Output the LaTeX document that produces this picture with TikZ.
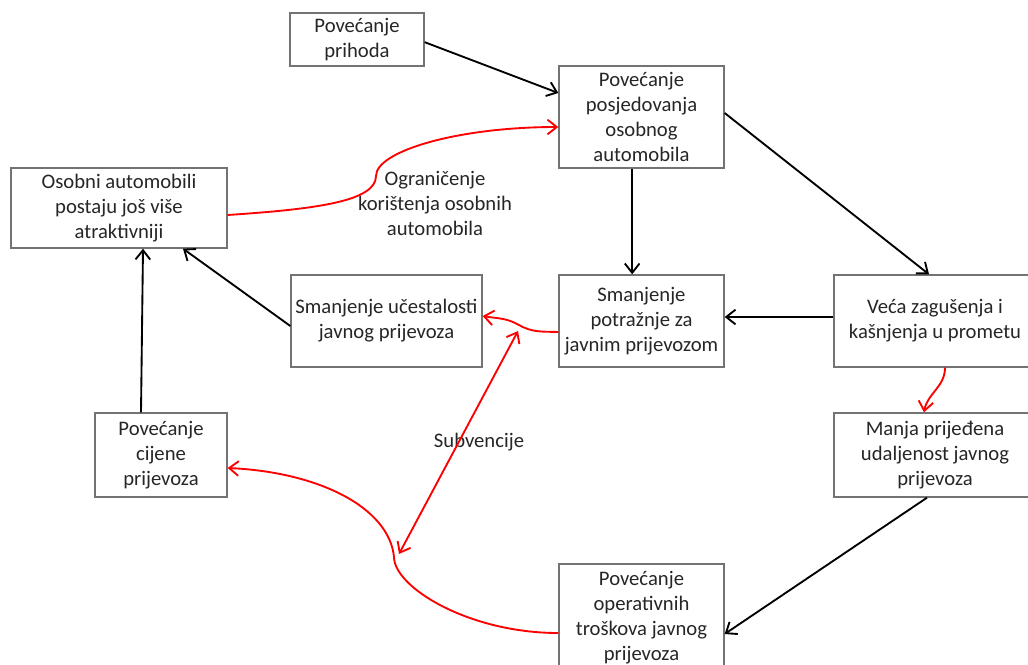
\documentclass[tikz,border=0pt]{standalone}
\usepackage{fontspec}
\setmainfont{Carlito}
\usetikzlibrary{arrows.meta}

\begin{document}
\begin{tikzpicture}[x=0.75pt, y=0.75pt,
    box/.style={draw=black!55, line width=1pt, align=center, inner sep=0pt,
        text=black!85, font=\fontsize{15.5}{18.75}\selectfont},
    oznaka/.style={align=center, inner sep=0pt, text=black!85,
        font=\fontsize{15.5}{18.75}\selectfont},
    veza/.style={-{Straight Barb[length=7pt,width=11pt]}, line width=1.4pt, black},
    crvena/.style={-{Straight Barb[length=7pt,width=11pt]}, line width=1.4pt, red}]

    % --- okvir slike ---
    \useasboundingbox (0,0) rectangle (1028,-664);
    \clip (0,0) rectangle (1028,-664);

    % --- cvorovi (okviri) ---
    \node[box, minimum width=100.5pt, minimum height=39.75pt] (prihod) at (357,-39.5) {Povećanje\\prihoda};
    \node[box, minimum width=123.75pt, minimum height=76.5pt] (posjed) at (641.5,-117) {Povećanje\\posjedovanja\\osobnog\\automobila};
    \node[box, minimum width=162pt, minimum height=60pt] (atrakt) at (119,-208) {Osobni automobili\\postaju još više\\atraktivniji};
    \node[box, minimum width=143.25pt, minimum height=69pt] (ucest) at (386.5,-321) {Smanjenje učestalosti\\javnog prijevoza};
    \node[box, minimum width=123.75pt, minimum height=69pt] (potraz) at (641.5,-321) {Smanjenje\\potražnje za\\javnim prijevozom};
    \node[box, minimum width=151.5pt, minimum height=69pt] (zagus) at (935,-321) {Veća zagušenja i\\kašnjenja u prometu};
    \node[box, minimum width=99pt, minimum height=63pt] (cijena) at (161,-455) {Povećanje\\cijene\\prijevoza};
    \node[box, minimum width=151.5pt, minimum height=63pt] (udalj) at (935,-455) {Manja prijeđena\\udaljenost javnog\\prijevoza};
    \node[box, minimum width=123.75pt, minimum height=81pt] (troskovi) at (641.5,-618) {Povećanje\\operativnih\\troškova javnog\\prijevoza};

    % --- natpisi uz veze ---
    \node[oznaka] (ogranicenje) at (435,-203) {Ograničenje\\korištenja osobnih\\automobila};
    \node[oznaka] (subvencije) at (479,-442) {Subvencije};

    % --- tocke pregiba ---
    \coordinate (pregibA) at (376,-176);
    \coordinate (pregibB) at (519,-325);
    \coordinate (pregibC) at (394,-557);
    \coordinate (subvGore) at (518,-331);
    \coordinate (subvDolje) at (399,-554);

    % --- crne veze ---
    \draw[veza] ([yshift=-2pt]prihod.east) -- ([yshift=18pt]posjed.west);
    \draw[veza] ([yshift=3pt]posjed.east) -- ([xshift=-4.5pt]zagus.north);
    \draw[veza] ([xshift=-7pt]posjed.south) -- ([xshift=-7pt]potraz.north);
    \draw[veza] ([yshift=3pt]zagus.west) -- ([yshift=3pt]potraz.east);
    \draw[veza] ([xshift=-6pt]udalj.south) -- ([yshift=-12pt]troskovi.east);
    \draw[veza] ([xshift=-15pt]cijena.north) -- ([xshift=18pt]atrakt.south);
    \draw[veza] ([yshift=-3.75pt]ucest.west) -- ([xshift=48pt]atrakt.south);

    % --- crvene veze ---
    \draw[crvena] ([yshift=-5.25pt]atrakt.east) .. controls +(90,6) and +(0,-25) .. (pregibA)
        .. controls +(0,25) and +(-100,0) .. ([yshift=-7.5pt]posjed.west);
    \draw[crvena] ([yshift=-8.25pt]potraz.west) to[out=178,in=-30] (pregibB) to[out=150,in=-10] ([yshift=3.75pt]ucest.east);
    \draw[crvena] ([xshift=7.5pt]zagus.south) to[out=-90,in=80] ([xshift=-8.25pt]udalj.north);
    \draw[crvena] ([yshift=-11.25pt]troskovi.west) .. controls +(-90,0) and +(0,-30) .. (pregibC)
        .. controls +(-5,50) and +(90,-4) .. ([yshift=-9.75pt]cijena.east);
    \draw[crvena, {Straight Barb[length=7pt,width=11pt]}-{Straight Barb[length=7pt,width=11pt]}] (subvGore) -- (subvDolje);

\end{tikzpicture}
\end{document}
